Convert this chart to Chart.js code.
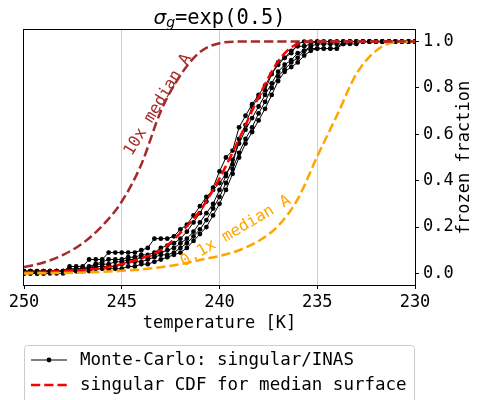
<!DOCTYPE html>
<html><head><meta charset="utf-8">
<script src="https://cdn.jsdelivr.net/npm/chart.js@4"></script>
<style>html,body{margin:0;padding:0;background:#fff}canvas{display:block}</style>
</head><body>
<canvas id="c" width="477" height="400"></canvas>
<script>
// Monte-Carlo temperature grid (K)
const mcTemps = [250,249.67,249.33,249,248.67,248.33,248,247.67,247.33,247,246.67,246.33,246,245.67,245.33,245,244.67,244.33,244,243.67,243.33,243,242.67,242.33,242,241.67,241.33,241,240.67,240.33,240,239.67,239.33,239,238.67,238.33,238,237.67,237.33,237,236.67,236.33,236,235.67,235.33,235,234.67,234.33,234,233.67,233.33,233,232.67,232.33,232,231.67,231.33,231,230.67,230.33,230];
// Monte-Carlo frozen fractions (five runs)
const mcRun1 = [0.01,0.01,0.01,0.01,0.01,0.01,0.01,0.03,0.03,0.03,0.06,0.06,0.06,0.09,0.09,0.09,0.09,0.09,0.10,0.11,0.15,0.15,0.15,0.16,0.19,0.21,0.25,0.29,0.33,0.36,0.39,0.43,0.47,0.58,0.64,0.72,0.76,0.79,0.86,0.91,0.93,0.95,0.99,1,1,1,1,1,1,1,1,1,1,1,1,1,1,1,1,1,1];
const mcRun2 = [0.00,0.01,0.01,0.01,0.01,0.01,0.01,0.01,0.02,0.02,0.02,0.04,0.05,0.06,0.06,0.06,0.07,0.07,0.08,0.08,0.09,0.11,0.12,0.13,0.15,0.18,0.22,0.26,0.31,0.37,0.44,0.50,0.53,0.63,0.68,0.73,0.77,0.81,0.86,0.90,0.93,0.96,0.98,0.98,0.99,1,1,1,1,1,1,1,1,1,1,1,1,1,1,1,1];
const mcRun3 = [0.01,0.01,0.00,0.00,0.01,0.01,0.01,0.02,0.02,0.02,0.03,0.04,0.04,0.04,0.05,0.05,0.06,0.06,0.07,0.07,0.08,0.09,0.10,0.11,0.13,0.15,0.18,0.22,0.26,0.30,0.36,0.42,0.49,0.56,0.62,0.67,0.72,0.77,0.82,0.87,0.90,0.92,0.95,0.96,0.97,0.97,0.97,0.97,0.97,1,1,1,1,1,1,1,1,1,1,1,1];
const mcRun4 = [0.00,0.00,0.00,0.01,0.01,0.01,0.01,0.01,0.01,0.02,0.02,0.03,0.03,0.03,0.03,0.04,0.05,0.05,0.05,0.06,0.07,0.08,0.08,0.09,0.11,0.13,0.16,0.19,0.23,0.28,0.33,0.39,0.45,0.52,0.58,0.63,0.69,0.74,0.80,0.85,0.88,0.91,0.93,0.96,0.98,0.99,0.99,0.99,0.99,0.99,0.99,0.99,1,1,1,1,1,1,1,1,1];
const mcRun5 = [0.00,0.00,0.00,0.00,0.00,0.00,0.00,0.01,0.01,0.01,0.01,0.02,0.02,0.02,0.02,0.02,0.03,0.03,0.04,0.04,0.05,0.06,0.07,0.08,0.09,0.11,0.14,0.17,0.20,0.25,0.30,0.36,0.43,0.50,0.56,0.61,0.66,0.71,0.77,0.83,0.87,0.89,0.91,0.94,0.96,0.97,0.97,0.97,0.97,0.99,1,1,1,1,1,1,1,1,1,1,1];
// CDF curves
const cdfTemps  = [250,249,248,247,246,245,244,243,242,241,240,239,238,237,236,235,234,233,232,231,230];
const cdfMedian = [0.005,0.007,0.010,0.015,0.023,0.040,0.065,0.100,0.175,0.270,0.410,0.580,0.760,0.915,0.990,1,1,1,1,1,1];
const cdf10x    = [0.027,0.047,0.080,0.130,0.205,0.310,0.470,0.700,0.855,0.955,0.993,1,1,1,1,1,1,1,1,1,1];
const cdf01x    = [0.000,0.001,0.002,0.004,0.007,0.011,0.017,0.027,0.040,0.058,0.075,0.100,0.140,0.205,0.320,0.505,0.680,0.860,0.960,0.998,1];
const xTicks = [250,245,240,235,230];
const yTicks = [0,0.2,0.4,0.6,0.8,1.0];

const MONO = '"DejaVu Sans Mono", monospace';
Chart.defaults.font.family = MONO;
Chart.defaults.color = '#000';

const pts = (xs, ys) => xs.map((x, i) => ({x: x, y: ys[i]}));
const DASH = [9.25, 4];
const mcStyle = {borderColor:'#000', backgroundColor:'#000', borderWidth:1, pointRadius:2.4, pointHoverRadius:2.4, pointBorderWidth:0, pointBackgroundColor:'#000', tension:0, order:3};
const cdfStyle = {borderWidth:2.5, borderDash:DASH, pointRadius:0, cubicInterpolationMode:'monotone', fill:false};

const datasets = [
  Object.assign({label:'Monte-Carlo: singular/INAS', data:pts(mcTemps, mcRun1)}, mcStyle),
  Object.assign({label:'_mc2', data:pts(mcTemps, mcRun2)}, mcStyle),
  Object.assign({label:'_mc3', data:pts(mcTemps, mcRun3)}, mcStyle),
  Object.assign({label:'_mc4', data:pts(mcTemps, mcRun4)}, mcStyle),
  Object.assign({label:'_mc5', data:pts(mcTemps, mcRun5)}, mcStyle),
  Object.assign({label:'singular CDF for median surface', data:pts(cdfTemps, cdfMedian), borderColor:'#ff0000', order:1}, cdfStyle),
  Object.assign({label:'10x median A', data:pts(cdfTemps, cdf10x), borderColor:'#a52a2a', order:0}, cdfStyle),
  Object.assign({label:'0.1x median A', data:pts(cdfTemps, cdf01x), borderColor:'#ffa500', order:0}, cdfStyle)
];

const annotations = [
  {text:'10x median A', x:243.14, y:0.727, angle:58.9, color:'#a52a2a'},
  {text:'0.1x median A', x:239.17, y:0.182, angle:30.6, color:'#ffa500'}
];

const decor = {
  id:'decor',
  afterDatasetsDraw(chart){
    const {ctx, scales:{x, y}} = chart;
    ctx.save();
    ctx.font = '16px ' + MONO;
    ctx.textAlign = 'center';
    ctx.textBaseline = 'middle';
    annotations.forEach(a => {
      ctx.save();
      ctx.translate(x.getPixelForValue(a.x), y.getPixelForValue(a.y));
      ctx.rotate(-a.angle * Math.PI / 180);
      ctx.fillStyle = a.color;
      ctx.fillText(a.text, 0, 0);
      ctx.restore();
    });
    ctx.restore();
  },
  afterDraw(chart){
    const {ctx, chartArea:ca} = chart;
    ctx.save();
    // spines
    ctx.strokeStyle = '#000';
    ctx.lineWidth = 1;
    ctx.strokeRect(Math.round(ca.left) - 0.5, Math.round(ca.top) - 0.5, Math.round(ca.right - ca.left) + 1, Math.round(ca.bottom - ca.top) + 1);
    // title
    const cx = (ca.left + ca.right) / 2;
    const f1 = 'italic 20px "DejaVu Sans"', f2 = 'italic 14px "DejaVu Sans"', f3 = '20.4px ' + MONO;
    ctx.font = f1; const w1 = ctx.measureText('σ').width;
    ctx.font = f2; const w2 = ctx.measureText('g').width;
    ctx.font = f3; const w3 = ctx.measureText('=exp(0.5)').width;
    let tx = cx - (w1 + w2 + w3) / 2;
    ctx.fillStyle = '#000';
    ctx.textAlign = 'left';
    ctx.textBaseline = 'alphabetic';
    ctx.font = f1; ctx.fillText('σ', tx, 24); tx += w1;
    ctx.font = f2; ctx.fillText('g', tx, 27); tx += w2;
    ctx.font = f3; ctx.fillText('=exp(0.5)', tx, 24);
    // right y-axis title
    ctx.save();
    ctx.translate(465, (ca.top + ca.bottom) / 2);
    ctx.rotate(-Math.PI / 2);
    ctx.font = '17px ' + MONO;
    ctx.textAlign = 'center';
    ctx.textBaseline = 'middle';
    ctx.fillText('frozen fraction', 0, 0);
    ctx.restore();
    // legend
    const lx = 24.5, ly = 345.5, lw = 390, lh = 70;
    ctx.beginPath();
    if (ctx.roundRect) ctx.roundRect(lx, ly, lw, lh, 3); else ctx.rect(lx, ly, lw, lh);
    ctx.fillStyle = 'rgba(255,255,255,0.8)';
    ctx.fill();
    ctx.strokeStyle = '#cccccc';
    ctx.lineWidth = 1;
    ctx.stroke();
    const items = [datasets[0], datasets[5]];
    const rows = [360, 385];
    items.forEach((d, i) => {
      const yy = rows[i];
      ctx.save();
      ctx.strokeStyle = d.borderColor;
      ctx.lineWidth = d.borderWidth;
      ctx.setLineDash(d.borderDash || []);
      ctx.beginPath(); ctx.moveTo(31, yy); ctx.lineTo(67, yy); ctx.stroke();
      ctx.setLineDash([]);
      if (d.pointRadius) {
        ctx.fillStyle = d.borderColor;
        ctx.beginPath(); ctx.arc(49, yy, d.pointRadius, 0, Math.PI * 2); ctx.fill();
      }
      ctx.fillStyle = '#000';
      ctx.font = '17.5px ' + MONO;
      ctx.textAlign = 'left';
      ctx.textBaseline = 'middle';
      ctx.fillText(d.label, 80, yy);
      ctx.restore();
    });
    ctx.restore();
  }
};

new Chart(document.getElementById('c'), {
  type:'line',
  data:{datasets:datasets},
  plugins:[decor],
  options:{
    responsive:false,
    animation:false,
    devicePixelRatio:1,
    layout:{padding:{left:24, top:30, right:0, bottom:65}},
    plugins:{legend:{display:false}, title:{display:false}, tooltip:{enabled:false}},
    scales:{
      x:{
        type:'linear', min:230, max:250, reverse:true,
        afterBuildTicks: s => { s.ticks = xTicks.map(v => ({value:v})); },
        afterFit: s => { s.height = 50; },
        ticks:{font:{size:17}, color:'#000', padding:3, maxRotation:0, autoSkip:false, callback: v => String(v)},
        grid:{color: c => (c.tick && (c.tick.value === 250 || c.tick.value === 230)) ? 'rgba(0,0,0,0)' : '#cfcfcf', lineWidth:1, tickColor:'#000', tickLength:4, tickWidth:1},
        border:{display:true, color:'#000', width:1},
        title:{display:true, text:'temperature [K]', font:{size:17}, color:'#000', padding:{top:0, bottom:1}}
      },
      y:{
        type:'linear', position:'right', min:-0.05, max:1.05,
        afterBuildTicks: s => { s.ticks = yTicks.map(v => ({value:v})); },
        afterFit: s => { s.width = 62; },
        ticks:{font:{size:17}, color:'#000', padding:4, callback: v => Number(v).toFixed(1)},
        grid:{drawOnChartArea:false, drawTicks:true, tickLength:4, tickColor:'#000', tickWidth:1},
        border:{display:true, color:'#000', width:1}
      }
    }
  }
});
</script>
</body></html>
